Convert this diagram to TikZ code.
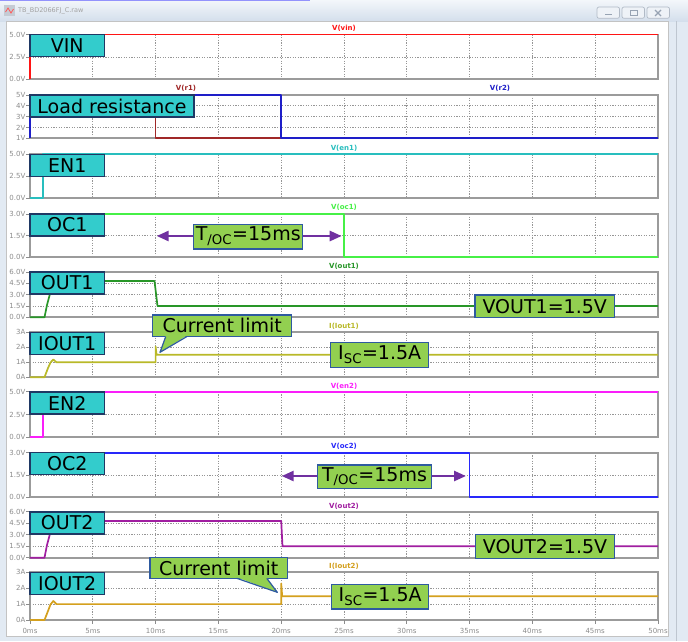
\documentclass[tikz,border=0pt]{standalone}
\usepackage{fontspec}
\setmainfont{DejaVu Sans}
\usepackage{tikz}
\usetikzlibrary{arrows.meta}
\usetikzlibrary{calc}

\definecolor{cvin}{RGB}{255,20,20}
\definecolor{cra}{RGB}{160,40,40}
\definecolor{crb}{RGB}{30,30,200}
\definecolor{cena}{RGB}{40,190,190}
\definecolor{coca}{RGB}{70,240,70}
\definecolor{couta}{RGB}{40,150,40}
\definecolor{cia}{RGB}{185,185,40}
\definecolor{cenb}{RGB}{250,30,250}
\definecolor{cocb}{RGB}{40,40,250}
\definecolor{coutb}{RGB}{160,30,160}
\definecolor{cib}{RGB}{212,160,30}
\definecolor{sigfill}{RGB}{51,204,204}
\definecolor{sigline}{RGB}{31,56,100}
\definecolor{notefill}{RGB}{146,208,80}
\definecolor{noteline}{RGB}{46,90,160}
\definecolor{arrowc}{RGB}{112,48,160}
\definecolor{framec}{RGB}{155,155,155}
\definecolor{gridc}{RGB}{150,150,150}
\definecolor{axisc}{RGB}{140,140,140}
\definecolor{winc}{RGB}{226,234,243}
\definecolor{titlec}{RGB}{212,223,236}
\definecolor{btnc}{RGB}{125,140,160}

\begin{document}
\begin{tikzpicture}[x=1pt,y=-1pt]
	\tikzset{sig/.style = {draw=sigline,fill=sigfill,line width=1.3pt,font=\fontsize{19}{22}\selectfont,minimum width=74.5pt,minimum height=22pt,inner sep=2pt,outer sep=0pt},
		note/.style = {draw=noteline,fill=notefill,line width=1.2pt,font=\fontsize{19}{22}\selectfont,inner sep=2pt,outer sep=0pt},
		trace/.style = {line width=1.7pt,line join=round},
		frame/.style = {draw=framec,line width=1.7pt},
		grid/.style = {gridc,line width=0.8pt,dash pattern=on 1.2pt off 1.4pt},
		ylab/.style = {text=axisc,font=\fontsize{7}{8}\selectfont,anchor=east,inner sep=0.5pt},
		xlab/.style = {text=axisc,font=\fontsize{7}{8}\selectfont,inner sep=0.5pt},
		trname/.style = {font=\fontsize{7}{8}\selectfont\bfseries,inner sep=0.5pt},
		ocarrow/.style = {draw=arrowc,line width=2.6pt,{Triangle[length=12pt,width=10pt]}-{Triangle[length=12pt,width=10pt]}}}
	\useasboundingbox (0,0) rectangle (688,641);
	\fill[winc] (0,0) rectangle (688,641);
	\shade[top color=winc!40,bottom color=titlec] (0,0) rectangle (688,21);
	\fill[cocb!50] (0,0) rectangle (310,1.2);
	\fill[white] (6,21) rectangle (668,636);
	\draw[framec!60,line width=0.6pt] (6,21) rectangle (668,636);
	\draw[btnc!50,line width=0.8pt] (676,21) -- (676,641);
	\fill[btnc!45] (4,5) rectangle (15,16);
	\draw[cvin!70,line width=0.8pt] (5.5,12) -- (8,8) -- (11,13) -- (13.5,9);
	\node[text=axisc!80,font=\fontsize{6.5}{7}\selectfont,anchor=west,inner sep=0pt] (title) at (18,11) {TB\_BD2066FJ\_C.raw};
	\foreach \bx in {597,622,647}
		\draw[btnc!60,fill=white!60!titlec,rounded corners=2pt,line width=0.7pt] (\bx,7) rectangle ++(22.5,11.3);
	\draw[btnc!80,line width=1.2pt] (605,14.5) -- (612,14.5);
	\draw[btnc!80,line width=0.9pt] (630,10) rectangle (637,15.5);
	\draw[btnc!80,line width=1.1pt] (655,10) -- (661,16) (655,16) -- (661,10);

	\foreach \t/\b in {34.5/79.3,95/138.3,154.3/198.3,214/257.3,272/317.3,332.3/377.3,391.7/437.3,452.7/497.3,511.7/557.7,572.3/620}
		\foreach \k in {1,...,9}
			\draw[grid] ({30+62.8*\k},\t) -- ({30+62.8*\k},\b);
	\foreach \y in {56.9,105.8,116.65,127.5,176.3,235.65,283.3,294.65,306,347.3,362.3,414.5,475,523.2,534.7,546.2,588.2,604.1}
		\draw[grid] (30,\y) -- (658,\y);
	\foreach \t/\b in {34.5/79.3,95/138.3,154.3/198.3,214/257.3,272/317.3,332.3/377.3,391.7/437.3,452.7/497.3,511.7/557.7,572.3/620}
		\draw[frame] (30,\t) rectangle (658,\b);

	\foreach \y/\v [count=\n] in {34.5/5.0V,56.9/2.5V,79.3/0.0V,95/5V,105.8/4V,116.65/3V,127.5/2V,138.3/1V,154.3/5.0V,176.3/2.5V,198.3/0.0V,214/3.0V,235.65/1.5V,257.3/0.0V,272/6.0V,283.3/4.5V,294.65/3.0V,306/1.5V,317.3/0.0V,332.3/3A,347.3/2A,362.3/1A,377.3/0A,391.7/5.0V,414.5/2.5V,437.3/0.0V,452.7/3.0V,475/1.5V,497.3/0.0V,511.7/6.0V,523.2/4.5V,534.7/3.0V,546.2/1.5V,557.7/0.0V,572.3/3A,588.2/2A,604.1/1A,620/0A}{
		\draw[axisc,line width=0.7pt] (26,\y) -- (30,\y);
		\node[ylab] (yl\n) at (26,\y) {\v};
	}
	\foreach \k [evaluate=\k as \m using int(5*\k)] in {0,...,10}{
		\draw[axisc,line width=0.7pt] ({30+62.8*\k},620) -- ({30+62.8*\k},624);
		\node[xlab] (xl\k) at ({30+62.8*\k},631) {\m ms};
	}

	\draw[trace,cvin] (30,79.3) -- (30,34.5) -- (658,34.5);
	\draw[trace,cra] (30,116.65) -- (155.6,116.65) -- (155.6,138.3) -- (658,138.3);
	\draw[trace,crb] (30,138.3) -- (30,95) -- (281.2,95) -- (281.2,138.3) -- (658,138.3);
	\draw[trace,cena] (30,198.3) -- (42.7,198.3) -- (42.7,154.3) -- (658,154.3);
	\draw[trace,coca] (30,214) -- (344,214) -- (344,257.3) -- (658,257.3);
	\draw[trace,couta] (30,317.3) -- (44.5,317.3) -- (47,305) -- (51,290) -- (55,282) -- (58,281) -- (154.5,281) -- (157.5,306) -- (658,306);
	\draw[trace,cia] (30,377.3) -- (44.5,377.3) -- (48,368) -- (50.5,362.5) -- (53.3,359.5) -- (56.5,362.3) -- (155.6,362.3) -- (155.6,346.5) -- (156.6,354.8) -- (658,354.8);
	\draw[trace,cenb] (30,437.3) -- (42.7,437.3) -- (42.7,391.7) -- (658,391.7);
	\draw[trace,cocb] (30,452.7) -- (469.6,452.7) -- (469.6,497.3) -- (658,497.3);
	\draw[trace,coutb] (30,557.7) -- (44.5,557.7) -- (47,545) -- (51,530) -- (55,522) -- (58,520.9) -- (281.2,520.9) -- (282.5,546.2) -- (658,546.2);
	\draw[trace,cib] (30,620) -- (44.5,620) -- (48,611) -- (50.5,604.5) -- (53.3,601) -- (56.5,604.1) -- (281.2,604.1) -- (281.2,583.5) -- (282.2,596.2) -- (658,596.2);

	\node[trname,text=cvin] (nvin) at (344,28) {V(vin)};
	\node[trname,text=cra] (nra) at (186,88) {V(r1)};
	\node[trname,text=crb] (nrb) at (500,88) {V(r2)};
	\node[trname,text=cena] (nena) at (344,148) {V(en1)};
	\node[trname,text=coca] (noca) at (344,207) {V(oc1)};
	\node[trname,text=couta] (nouta) at (344,266.5) {V(out1)};
	\node[trname,text=cia] (nia) at (344,326) {I(Iout1)};
	\node[trname,text=cenb] (nenb) at (344,386) {V(en2)};
	\node[trname,text=cocb] (nocb) at (344,446) {V(oc2)};
	\node[trname,text=coutb] (noutb) at (344,506) {V(out2)};
	\node[trname,text=cib] (nib) at (344,566) {I(Iout2)};

	\coordinate (taL) at (156.7,236);
	\coordinate (taR) at (341.7,236);
	\draw[ocarrow] (taL) -- (taR);
	\coordinate (tbL) at (281.7,476);
	\coordinate (tbR) at (466,476);
	\draw[ocarrow] (tbL) -- (tbR);

	\node[sig,anchor=north west] (vin) at (30,34.5) {VIN};
	\node[sig,anchor=north west,minimum width=164pt] (load) at (30,95) {Load resistance};
	\node[sig,anchor=north west] (ena) at (30,154.3) {EN1};
	\node[sig,anchor=north west] (oca) at (30,214) {OC1};
	\node[sig,anchor=north west] (outa) at (30,272) {OUT1};
	\node[sig,anchor=north west] (ia) at (30,332.5) {IOUT1};
	\node[sig,anchor=north west] (enb) at (30,392) {EN2};
	\node[sig,anchor=north west] (ocb) at (30,452.7) {OC2};
	\node[sig,anchor=north west] (outb) at (30,512) {OUT2};
	\node[sig,anchor=north west] (ib) at (30,572.5) {IOUT2};

	\node[note,minimum width=108.7pt,minimum height=24.7pt] (toca) at (248.3,236.6) {T\textsubscript{/OC}=15ms};
	\node[note,minimum width=114.4pt,minimum height=23.3pt] (tocb) at (374.5,476.7) {T\textsubscript{/OC}=15ms};
	\node[note,minimum width=139.3pt,minimum height=22.7pt] (vouta) at (544.7,306.3) {VOUT1=1.5V};
	\node[note,minimum width=138.6pt,minimum height=23.6pt] (voutb) at (545,546.5) {VOUT2=1.5V};
	\node[note,minimum width=98pt,minimum height=24.6pt] (isca) at (379.7,355) {I\textsubscript{SC}=1.5A};
	\node[note,minimum width=97pt,minimum height=24.7pt] (iscb) at (380.2,596.7) {I\textsubscript{SC}=1.5A};

	\node[note,minimum width=139pt,minimum height=21.7pt] (cla) at (222.2,325.8) {Current limit};
	\coordinate (clatip) at (160,352.3);
	\fill[notefill] ($(cla.south west)+(13,-1)$) -- (clatip) -- ($(cla.south west)+(34,-1)$) -- cycle;
	\draw[noteline,line width=1.2pt,line join=round] ($(cla.south west)+(13,0)$) -- (clatip) -- ($(cla.south west)+(34,0)$);
	\node[note,minimum width=137.3pt,minimum height=20.6pt] (clb) at (218.7,568) {Current limit};
	\coordinate (clbtip) at (277.3,592.3);
	\fill[notefill] ($(clb.south west)+(86.7,-1)$) -- (clbtip) -- ($(clb.south west)+(116.7,-1)$) -- cycle;
	\draw[noteline,line width=1.2pt,line join=round] ($(clb.south west)+(86.7,0)$) -- (clbtip) -- ($(clb.south west)+(116.7,0)$);
\end{tikzpicture}
\end{document}
